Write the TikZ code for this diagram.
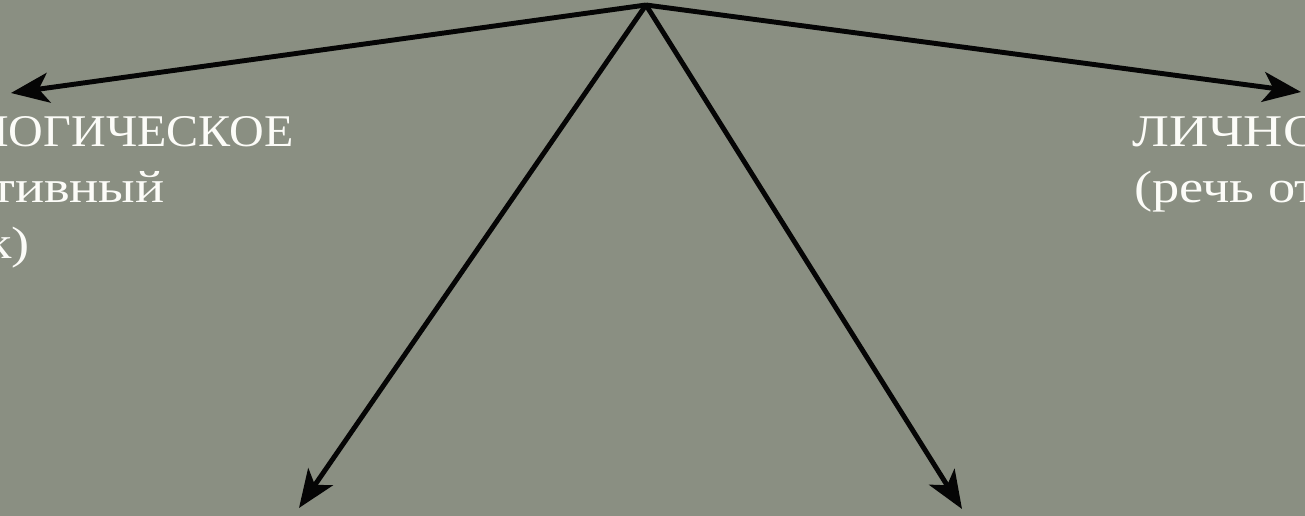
\documentclass[tikz,border=0pt]{standalone}
\usepackage{fontspec}
\setmainfont[FakeStretch=1.2]{Liberation Serif}
\newfontfamily\capsfont[FakeStretch=1.06]{Liberation Serif}
\usepackage{tikz}
\usepackage{xcolor}
\usetikzlibrary{arrows.meta,positioning}
\definecolor{slate}   {HTML}{8A8F82}
\definecolor{ink}     {HTML}{050505}
\definecolor{paper}   {HTML}{FCFCF8}
\tikzset{
  arr/.style  ={-{Stealth[length=0.76cm,width=0.6cm,inset=0.2cm]}, line width=2.8pt,
                color=ink},
  lbl/.style  ={text=paper, inner sep=0pt, font=\fontsize{25.8pt}{32pt}\selectfont},
  head/.style ={lbl, font=\fontsize{25.8pt}{32pt}\capsfont},
}
\begin{document}
\begin{tikzpicture}[x=0.02cm,y=-0.02cm]
  \useasboundingbox (0,0) rectangle (1305,516);
  \fill[slate] (0,0) rectangle (1305,516);
  \clip (0,0) rectangle (1305,516);

  \coordinate (top) at (646,5);
  \coordinate (west) at (11,93);
  \coordinate (east) at (1301,92);
  \coordinate (sw) at (299,508);
  \coordinate (se) at (962,509);

  \node[head,anchor=base east] (log1) at (294,147) {ЛОГИЧЕСКОЕ};
  \node[lbl,anchor=base east] (log2) at (165,203) {тивный};
  \node[lbl,anchor=base east] (log3) at (30,259) {к)};
  \node[lbl,anchor=base west] (lich1) at (1132,147) {ЛИЧНО};
  \node[lbl,anchor=base west] (lich2) at (1134,203) {(речь от};

  \draw[arr] (top) -- (west);
  \draw[arr] (top) -- (east);
  \draw[arr] (top) -- (sw);
  \draw[arr] (top) -- (se);
\end{tikzpicture}
\end{document}
